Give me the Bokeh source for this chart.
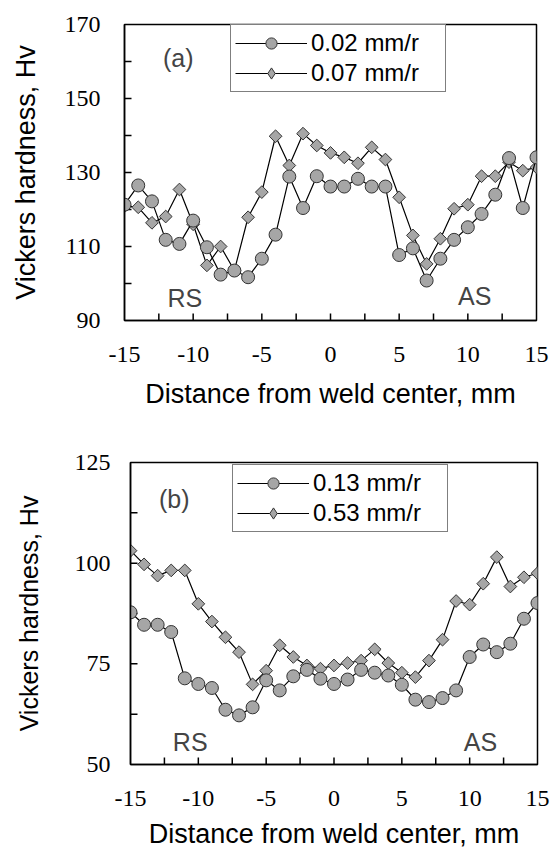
import numpy as np
from bokeh.plotting import figure
from bokeh.models import Legend, LegendItem, Range1d, FixedTicker, Label
from bokeh.embed import file_html
from bokeh.resources import INLINE

# ---- data ----
distance = list(range(-15, 16))

hv_002 = [121.3, 126.5, 122.2, 111.8, 110.7, 117.0, 109.8, 102.4, 103.5, 101.7,
          106.7, 113.2, 128.9, 120.4, 129.0, 126.2, 126.2, 128.3, 126.2, 126.2,
          107.7, 109.5, 100.8, 106.7, 111.8, 115.2, 118.8, 124.0, 133.9, 120.4, 134.1]
hv_007 = [121.0, 120.6, 116.4, 118.1, 125.4, 116.0, 104.9, 110.0, 103.5, 117.9,
          124.7, 139.8, 131.9, 140.5, 137.3, 135.3, 134.1, 132.5, 136.8, 133.5,
          123.3, 113.0, 105.3, 112.1, 120.2, 121.3, 129.0, 129.0, 132.8, 130.5, 131.4]

hv_013 = [87.8, 84.7, 84.7, 82.9, 71.4, 70.0, 69.0, 63.6, 62.2, 64.2,
          70.9, 68.4, 71.9, 73.5, 71.3, 70.0, 71.1, 73.5, 72.8, 72.1,
          69.8, 66.1, 65.5, 66.5, 68.4, 76.7, 79.8, 77.9, 80.0, 86.2, 90.1]
hv_053 = [103.1, 99.7, 96.9, 98.2, 98.2, 89.9, 85.5, 81.6, 77.9, 69.9,
          73.3, 79.6, 76.7, 74.6, 73.8, 74.6, 75.2, 75.8, 78.6, 75.2,
          72.8, 71.7, 75.8, 81.0, 90.6, 89.7, 94.9, 101.5, 94.2, 96.5, 97.5]

x_major = [-15, -10, -5, 0, 5, 10, 15]
x_minor = [-12.5, -7.5, -2.5, 2.5, 7.5, 12.5]
x_tick_labels = ["-15", "-10", "-5", "0", "5", "10", "15"]

SANS = "Liberation Sans"
SERIF = "Liberation Serif"
MARK_FILL = "#a6a6a6"
MARK_LINE = "#333333"


def make_panel(height, border_left, border_right, border_top, border_bottom,
               ylo, yhi, ymajor, yminor, series_circle, series_diamond,
               lab_circle, lab_diamond, tag, tag_xy, rs_xy, as_xy,
               legend_loc, xlab_standoff, xaxis_standoff, ylab_standoff,
               yaxis_standoff, ylab_size):
    p = figure(width=552, height=height, output_backend="svg", toolbar_location=None,
               x_range=Range1d(-15, 15), y_range=Range1d(ylo, yhi),
               min_border_left=border_left, min_border_right=border_right,
               min_border_top=border_top, min_border_bottom=border_bottom)
    p.background_fill_color = "white"
    p.border_fill_color = "white"
    p.outline_line_color = "black"
    p.outline_line_width = 1.5
    p.xgrid.visible = False
    p.ygrid.visible = False

    for ax in (p.xaxis[0], p.yaxis[0]):
        ax.axis_line_color = "black"
        ax.axis_line_width = 1.5
        ax.major_tick_in = 0
        ax.major_tick_out = 0
        ax.minor_tick_in = 0
        ax.minor_tick_out = 0
        ax.major_label_text_font = SERIF
        ax.major_label_text_font_size = "24px"
        ax.major_label_text_color = "black"
        ax.axis_label_text_font = SANS
        ax.axis_label_text_font_style = "normal"
        ax.axis_label_text_color = "black"

    p.xaxis.ticker = FixedTicker(ticks=x_major, minor_ticks=x_minor)
    p.xaxis.major_label_overrides = {float(v): s for v, s in zip(x_major, x_tick_labels)}
    p.yaxis.ticker = FixedTicker(ticks=ymajor, minor_ticks=yminor)
    p.xaxis.axis_label = "Distance from weld center, mm"
    p.yaxis.axis_label = "Vickers hardness, Hv"
    p.xaxis.axis_label_text_font_size = "27px"
    p.yaxis.axis_label_text_font_size = ylab_size
    p.xaxis.major_label_standoff = xlab_standoff
    p.xaxis.axis_label_standoff = xaxis_standoff
    p.yaxis.major_label_standoff = ylab_standoff
    p.yaxis.axis_label_standoff = yaxis_standoff

    # inward tick marks (dash markers centred on the frame edge, outer half clipped)
    xt = sorted(x_major[1:-1] + x_minor)
    p.scatter(xt, [ylo] * len(xt), marker="dash", angle=np.pi / 2, size=14,
              line_color="black", line_width=1.5)
    yt = sorted(ymajor[1:-1] + yminor)
    p.scatter([-15] * len(yt), yt, marker="dash", size=14,
              line_color="black", line_width=1.5)

    ld = p.line(distance, series_diamond, line_color="black", line_width=1.2)
    p.scatter(distance, series_diamond, marker="square", angle=np.pi / 4, size=9,
              fill_color=MARK_FILL, line_color=MARK_LINE, line_width=1)
    lc = p.line(distance, series_circle, line_color="black", line_width=1.2)
    sc = p.scatter(distance, series_circle, marker="circle", size=13,
                   fill_color=MARK_FILL, line_color=MARK_LINE, line_width=1)
    # legend swatch for the diamond series (nothing drawn in the plot area)
    sd_leg = p.scatter([np.nan], [np.nan], marker="diamond", size=12,
                       fill_color=MARK_FILL, line_color=MARK_LINE, line_width=1)

    legend = Legend(items=[LegendItem(label=lab_circle, renderers=[lc, sc]),
                           LegendItem(label=lab_diamond, renderers=[ld, sd_leg])],
                    location=legend_loc)
    legend.border_line_color = "black"
    legend.border_line_width = 1.5
    legend.background_fill_color = "white"
    legend.background_fill_alpha = 1
    legend.label_text_font = SANS
    legend.label_text_font_size = "24px"
    legend.label_text_color = "black"
    legend.glyph_width = 72
    legend.glyph_height = 28
    legend.label_height = 28
    legend.label_width = 130
    legend.label_standoff = 4
    legend.padding = 4
    legend.spacing = 2
    legend.margin = 0
    p.add_layout(legend)

    p.add_layout(Label(x=tag_xy[0], y=tag_xy[1], text=tag, text_font=SANS,
                       text_font_size="25px", text_align="left", text_baseline="middle"))
    p.add_layout(Label(x=rs_xy[0], y=rs_xy[1], text="RS", text_font=SANS,
                       text_font_size="25px", text_align="center", text_baseline="middle"))
    p.add_layout(Label(x=as_xy[0], y=as_xy[1], text="AS", text_font=SANS,
                       text_font_size="25px", text_align="center", text_baseline="middle"))
    return p


pa = make_panel(420, 124, 16, 24, 100, 90, 170, [90, 110, 130, 150, 170], [100, 120, 140, 160],
                hv_002, hv_007, "0.02 mm/r", "0.07 mm/r", "(a)", (-12.2, 161),
                (-10.6, 96), (10.5, 96.5), (106, 228), 26, 14, 24, 21, "27px")
pb = make_panel(434, 130, 15, 42, 90, 50, 125, [50, 75, 100, 125], [62.5, 87.5, 112.5],
                hv_013, hv_053, "0.13 mm/r", "0.53 mm/r", "(b)", (-12.9, 116),
                (-10.6, 55.5), (10.8, 55.5), (102, 232), 26, 10, 20, 29, "25px")

open("out.html", "w").write(file_html([pa, pb], INLINE))
